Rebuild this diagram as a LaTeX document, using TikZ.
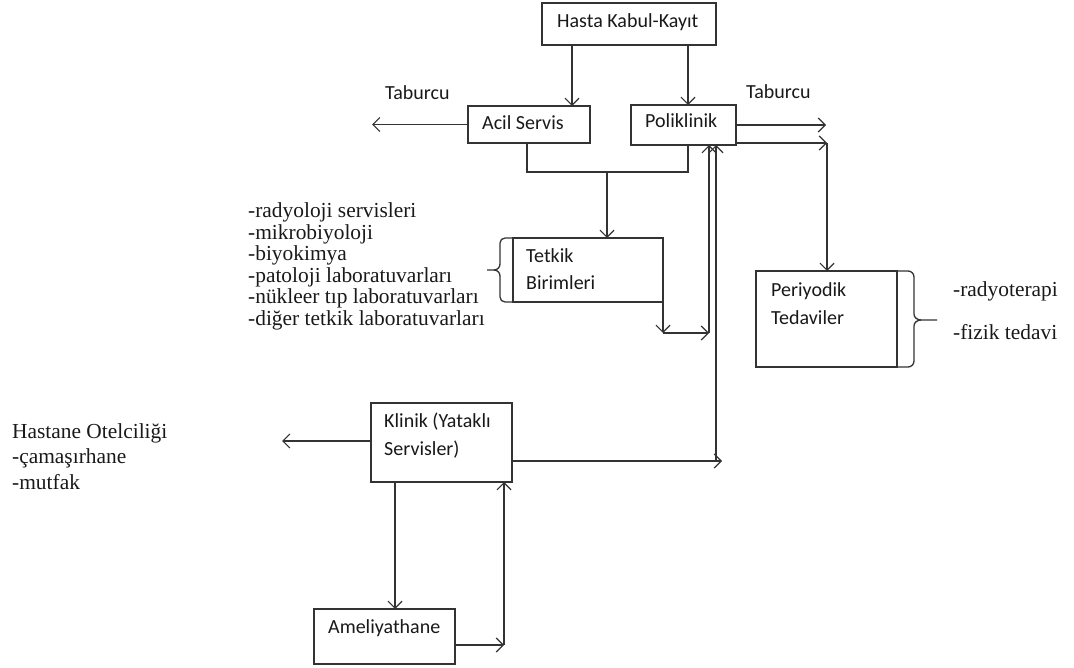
\documentclass[tikz,border=0pt]{standalone}
\usepackage{fontspec}
\setmainfont{Liberation Serif}
\newfontfamily\calibri{Carlito}
\usetikzlibrary{arrows.meta}
\begin{document}
\begin{tikzpicture}[x=1pt,y=-1pt,
  ln/.style={line width=1.3pt, draw=black!80},
  box/.style={ln, draw, fill=white, inner sep=0pt, outer sep=0pt, anchor=north west},
  arr/.style={ln, -{Straight Barb[length=7pt,width=14pt,line width=1.2pt]}},
  sans/.style={font=\calibri\fontsize{20}{24}\selectfont, inner sep=0pt, anchor=base west, text=black!90},
  serif/.style={font=\fontsize{21.4}{21.5}\selectfont, inner sep=0pt, anchor=base west, text=black!90}]
\useasboundingbox (0,0) rectangle (1074,668);

% boxes
\node[box, minimum width=174pt, minimum height=42pt] (hk) at (542,3) {};
\node[box, minimum width=122pt, minimum height=37pt] (acil) at (468,106) {};
\node[box, minimum width=105pt, minimum height=40pt] (poli) at (631,105) {};
\node[box, minimum width=150pt, minimum height=64pt] (tetkik) at (513,238) {};
\node[box, minimum width=141pt, minimum height=96pt] (peri) at (756,271) {};
\node[box, minimum width=141pt, minimum height=79pt] (klinik) at (371,403) {};
\node[box, minimum width=141pt, minimum height=55pt] (amel) at (314,609) {};

% box texts
\node[sans] (thk) at (557,28) {Hasta Kabul-Kayıt};
\node[sans] (tacil) at (482,130) {Acil Servis};
\node[sans] (tpoli) at (645,128) {Poliklinik};
\node[sans] (ttet1) at (526,263) {Tetkik};
\node[sans] (ttet2) at (526,290) {Birimleri};
\node[sans] (tper1) at (771,297) {Periyodik};
\node[sans] (tper2) at (771,325) {Tedaviler};
\node[sans] (tkl1) at (384,427) {Klinik (Yataklı};
\node[sans] (tkl2) at (384,455) {Servisler)};
\node[sans] (tam) at (328,633) {Ameliyathane};
\node[sans] (tab1) at (385,100) {Taburcu};
\node[sans] (tab2) at (746,99) {Taburcu};

% side texts
\node[serif] (r1) at (953,297) {-radyoterapi};
\node[serif] (r2) at (953,340) {-fizik tedavi};
\node[serif] (h1) at (12,438) {Hastane Otelciliği};
\node[serif] (h2) at (12,463) {-çamaşırhane};
\node[serif] (h3) at (12,489) {-mutfak};
\node[serif] (l1) at (248,218) {-radyoloji servisleri};
\node[serif] (l2) at (248,239.5) {-mikrobiyoloji};
\node[serif] (l3) at (248,261) {-biyokimya};
\node[serif] (l4) at (248,282.5) {-patoloji laboratuvarları};
\node[serif] (l5) at (248,304) {-nükleer tıp laboratuvarları};
\node[serif] (l6) at (248,325.5) {-diğer tetkik laboratuvarları};

% braces
\draw[ln] (tetkik.north west) -- (505,238) to[out=180,in=90] (500,243) -- (500,264)
  to[out=-90,in=0] (494,270) -- (487,270);
\draw[ln] (494,270) to[out=0,in=90] (500,276) -- (500,297) to[out=-90,in=180] (505,302) -- (tetkik.south west);
\draw[ln] (peri.north east) -- (908,271) to[out=0,in=90] (914,277) -- (914,314)
  to[out=-90,in=180] (921,320) -- (937,320);
\draw[ln] (921,320) to[out=180,in=90] (914,326) -- (914,361) to[out=-90,in=0] (908,367) -- (peri.south east);

% helper coordinates
\coordinate (xa) at (572,0);
\coordinate (xb) at (688,0);
\coordinate (xc) at (527,0);
\coordinate (xd) at (607,0);
\coordinate (xe) at (827,0);
\coordinate (xf) at (663,0);
\coordinate (xg) at (709,0);
\coordinate (xh) at (716,0);
\coordinate (xi) at (395,0);
\coordinate (xj) at (504,0);
\coordinate (ya) at (0,172);
\coordinate (yb) at (0,333);
\coordinate (yc) at (0,461);
\coordinate (yd) at (0,441);
\coordinate (ye) at (0,645);
\coordinate (yf) at (0,125);
\coordinate (yg) at (0,143);
\coordinate (lefta) at (372,124.5);
\coordinate (leftk) at (282,441);
\coordinate (pr1) at (826,125);
\coordinate (pr2) at (xe |- yg);
\coordinate (tc) at (xf |- yb);
\coordinate (tg) at (xg |- yb);
\coordinate (kr) at (722,461);
\coordinate (kh) at (xh |- yc);
\coordinate (ja) at (xd |- ya);
\coordinate (ar) at (xj |- ye);

% connectors
\draw[arr] (hk.south -| xa) -- (acil.north -| xa);
\draw[arr] (hk.south -| xb) -- (poli.north -| xb);
\draw[arr] (acil.west) -- (lefta);
\draw[arr] (poli.east |- yf) -- (pr1);
\draw[arr] (poli.east |- yg) -- (pr2);
\draw[arr] (pr2) -- (peri.north -| xe);
\draw[ln] (acil.south -| xc) -- (xc |- ya) -- (xb |- ya) -- (poli.south -| xb);
\draw[arr] (ja) -- (tetkik.north -| xd);
\draw[arr] (tetkik.south -| xf) -- (tc);
\draw[arr] (tc) -- (tg);
\draw[arr] (tg) -- (poli.south -| xg);
\draw[arr] (klinik.east |- yc) -- (kr);
\draw[arr] (kh) -- (poli.south -| xh);
\draw[arr] (klinik.west |- yd) -- (leftk);
\draw[arr] (klinik.south -| xi) -- (amel.north -| xi);
\draw[arr] (amel.east |- ye) -- (ar);
\draw[arr] (ar) -- (klinik.south -| xj);
\end{tikzpicture}
\end{document}
